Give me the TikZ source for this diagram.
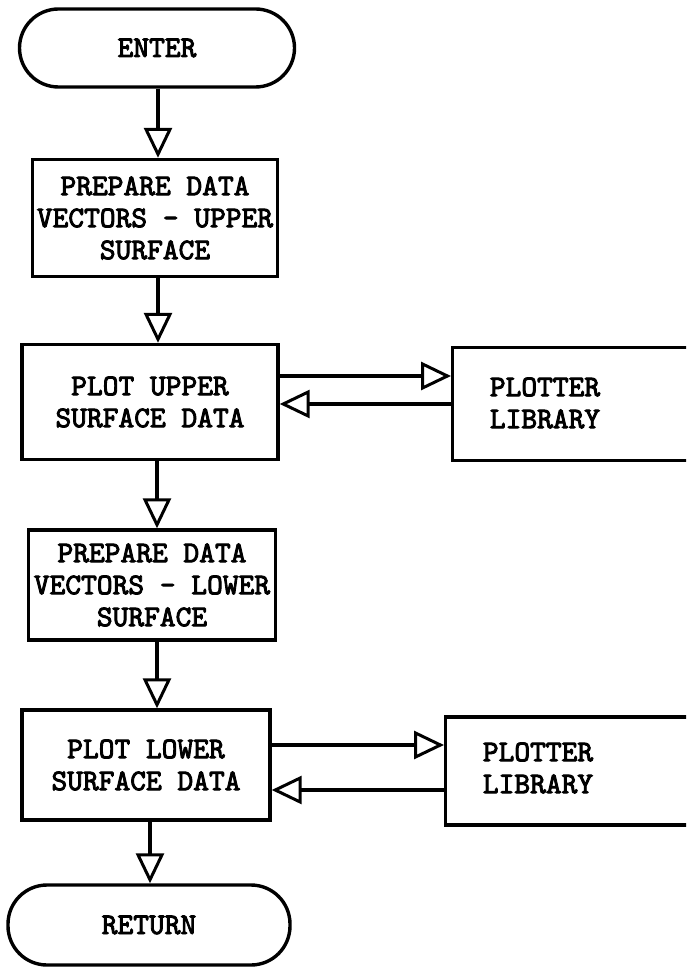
\documentclass[tikz,border=0pt]{standalone}
\usepackage{fontspec}
\newfontfamily\twfont{lmmono10-regular.otf}[FakeBold=3]
\usetikzlibrary{arrows.meta}
\tikzset{
  fnt/.style={font=\fontsize{30}{32}\selectfont\twfont\bfseries},
  box/.style={draw, line width=3.4pt, align=center, fnt, inner sep=0pt},
  term/.style={box, rounded corners=39pt},
  txt/.style={align=center, fnt, inner sep=0pt},
  arr/.style={line width=3.4pt, -{Triangle[open, length=30pt, width=28pt, line width=3pt]}}
}
\begin{document}
\begin{tikzpicture}[x=1pt,y=-1pt]
\clip (0,0) rectangle (686,968);
\fill[white] (0,0) rectangle (686,968);
\node[term, minimum width=275pt, minimum height=78pt] (enter) at (157,48) {ENTER};
\node[box, minimum width=245pt, minimum height=117pt] (prep1) at (155,218) {PREPARE DATA\\VECTORS - UPPER\\SURFACE};
\node[box, minimum width=256pt, minimum height=115pt] (plot1) at (150,402) {PLOT UPPER\\SURFACE DATA};
\node[box, anchor=west, minimum width=260pt, minimum height=113pt] (lib1) at (451,404) {};
\node[txt] (lib1t) at (545,403) {PLOTTER\\LIBRARY};
\node[box, minimum width=247pt, minimum height=110pt] (prep2) at (152,585) {PREPARE DATA\\VECTORS - LOWER\\SURFACE};
\node[box, minimum width=248pt, minimum height=110pt] (plot2) at (146,765) {PLOT LOWER\\SURFACE DATA};
\node[box, anchor=west, minimum width=260pt, minimum height=108pt] (lib2) at (444,771) {};
\node[txt] (lib2t) at (538,768) {PLOTTER\\LIBRARY};
\node[term, minimum width=282pt, minimum height=80pt] (ret) at (149,925) {RETURN};
\draw[arr] ([xshift=1pt]enter.south) -- ([xshift=1pt]enter.south |- prep1.north);
\draw[arr] ([xshift=3pt]prep1.south) -- ([xshift=3pt]prep1.south |- plot1.north);
\draw[arr] ([xshift=7pt]plot1.south) -- ([xshift=7pt]plot1.south |- prep2.north);
\draw[arr] ([xshift=5pt]prep2.south) -- ([xshift=5pt]prep2.south |- plot2.north);
\draw[arr] ([xshift=4pt]plot2.south) -- ([xshift=4pt]plot2.south |- ret.north);
\draw[arr] ([yshift=26pt]plot1.east) -- ([yshift=26pt]plot1.east -| lib1.west);
\draw[arr] ([yshift=-2pt]plot1.east -| lib1.west) -- ([yshift=-2pt]plot1.east);
\draw[arr] ([yshift=20pt]plot2.east) -- ([yshift=20pt]plot2.east -| lib2.west);
\draw[arr] ([yshift=-25pt]plot2.east -| lib2.west) -- ([yshift=-25pt]plot2.east);
\end{tikzpicture}
\end{document}
